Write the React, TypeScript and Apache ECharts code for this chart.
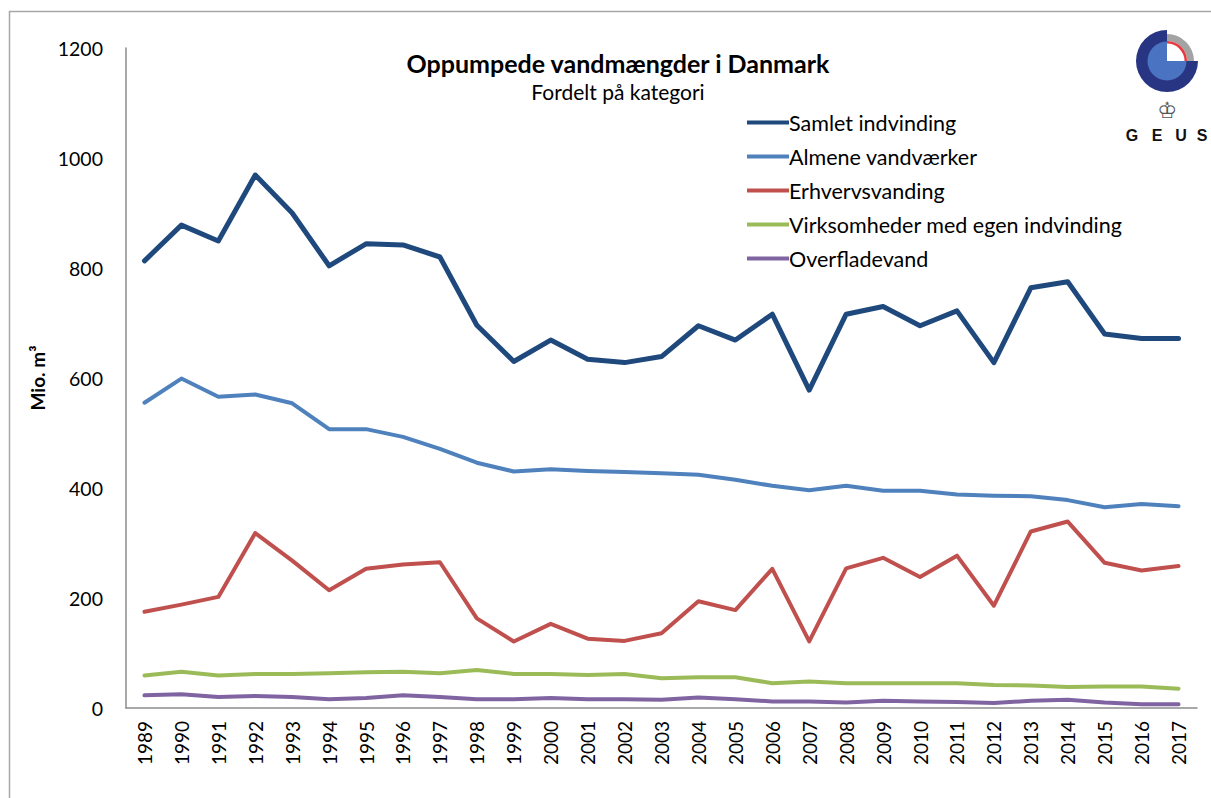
import React, { useEffect, useRef } from "react";
import * as echarts from "echarts";

const years = ["1989","1990","1991","1992","1993","1994","1995","1996","1997","1998","1999","2000","2001","2002","2003","2004","2005","2006","2007","2008","2009","2010","2011","2012","2013","2014","2015","2016","2017"];
const samlet = [813, 878, 849, 969, 900, 804, 844, 842, 820, 696, 630, 669, 634, 628, 639, 695, 669, 716, 578, 716, 730, 695, 722, 628, 764, 775, 680, 672, 672];
const almene = [555, 599, 566, 570, 554, 507, 507, 493, 471, 446, 430, 434, 431, 429, 427, 424, 415, 404, 396, 404, 395, 395, 388, 386, 385, 378, 365, 371, 367];
const erhverv = [175, 188, 202, 318, 268, 214, 253, 261, 265, 163, 121, 153, 126, 122, 136, 194, 178, 253, 121, 254, 273, 238, 277, 186, 321, 339, 264, 250, 258];
const virksomheder = [59, 66, 59, 62, 62, 63, 65, 66, 63, 69, 62, 62, 60, 62, 54, 56, 56, 45, 48, 45, 45, 45, 45, 42, 41, 38, 39, 39, 35];
const overflade = [23, 25, 20, 22, 20, 16, 18, 23, 20, 16, 16, 18, 16, 16, 15, 19, 16, 12, 12, 10, 13, 12, 11, 9, 13, 15, 10, 7, 7];

const seriesNames = ["Samlet indvinding", "Almene vandværker", "Erhvervsvanding", "Virksomheder med egen indvinding", "Overfladevand"];
const seriesColors = ["#1F497D", "#4F81BD", "#C0504D", "#9BBB59", "#8064A2"];
const seriesData = [samlet, almene, erhverv, virksomheder, overflade];
const seriesWidths = [5, 4, 4, 4, 4];

const titleText = "Oppumpede vandmængder i Danmark";
const subtitleText = "Fordelt på kategori";
const yAxisName = "Mio. m³";

const FONT = "Lato, 'Open Sans', sans-serif";

export default function App() {
  const ref = useRef<HTMLDivElement>(null);
  useEffect(() => {
    if (!ref.current) return;
    const chart = echarts.init(ref.current, undefined, { renderer: "svg" });
    const cx = 1167, cy = 61;
    chart.setOption({
      animation: false,
      backgroundColor: "#ffffff",
      textStyle: { fontFamily: FONT },
      title: {
        text: titleText,
        subtext: subtitleText,
        left: 613,
        top: 45,
        textAlign: "center",
        itemGap: 6,
        textStyle: { fontFamily: FONT, fontWeight: "bold", fontSize: 25, color: "#000" },
        subtextStyle: { fontFamily: FONT, fontSize: 21, color: "#000" },
      },
      legend: {
        orient: "vertical",
        left: 742,
        top: 106,
        itemWidth: 42,
        itemHeight: 4,
        itemGap: 11,
        icon: "rect",
        data: seriesNames,
        textStyle: { fontFamily: FONT, fontSize: 21.5, color: "#000", lineHeight: 23, padding: [0, 0, 0, -5] },
      },
      grid: { left: 126, top: 48, right: 14, bottom: 90 },
      xAxis: {
        type: "category",
        data: years,
        boundaryGap: true,
        axisLine: { lineStyle: { color: "#8c8c8c", width: 1.5 } },
        axisTick: { show: false },
        axisLabel: { rotate: 90, fontFamily: FONT, fontSize: 19, color: "#000", margin: 13, interval: 0 },
      },
      yAxis: {
        type: "value",
        min: 0,
        max: 1200,
        interval: 200,
        name: yAxisName,
        nameLocation: "middle",
        nameGap: 78,
        nameTextStyle: { fontFamily: FONT, fontWeight: "bold", fontSize: 19, color: "#000" },
        axisLine: { show: true, lineStyle: { color: "#8c8c8c", width: 1.5 } },
        axisTick: { show: false },
        splitLine: { show: false },
        axisLabel: { fontFamily: FONT, fontSize: 19.5, color: "#000", margin: 23, formatter: (v: number) => String(v) },
      },
      series: seriesNames.map((name, i) => ({
        name,
        type: "line",
        data: seriesData[i],
        symbol: "none",
        showSymbol: false,
        color: seriesColors[i],
        lineStyle: { color: seriesColors[i], width: seriesWidths[i], cap: "round", join: "round" },
        z: 10 - i,
      })),
      graphic: [
        {
          type: "rect",
          silent: true,
          shape: { x: 9.5, y: 11.5, width: 1400, height: 1000 },
          style: { fill: "none", stroke: "#a6a6a6", lineWidth: 1.5 },
        },
        {
          type: "group",
          silent: true,
          children: [
            { type: "sector", shape: { cx, cy, r: 31, r0: 0, startAngle: 0, endAngle: Math.PI * 1.5, clockwise: true }, style: { fill: "#283583" } },
            { type: "sector", shape: { cx, cy, r: 19.5, r0: 0, startAngle: 0, endAngle: Math.PI * 1.5, clockwise: true }, style: { fill: "#4A73C2" } },
            { type: "sector", shape: { cx, cy, r: 27, r0: 20, startAngle: Math.PI * 1.5, endAngle: Math.PI * 2, clockwise: true }, style: { fill: "#A3A3A3" } },
            { type: "sector", shape: { cx, cy, r: 20, r0: 17.5, startAngle: Math.PI * 1.5, endAngle: Math.PI * 2, clockwise: true }, style: { fill: "#E8383D" } },
            { type: "text", x: cx, y: 110, style: { text: "♔", fontSize: 22, fontFamily: "DejaVu Sans", fill: "#555", align: "center", verticalAlign: "middle" } },
            { type: "text", x: 1132, y: 135, style: { text: "G", fontSize: 16, fontWeight: "bold", fontFamily: "Liberation Sans", fill: "#111", align: "center", verticalAlign: "middle" } },
            { type: "text", x: 1157, y: 135, style: { text: "E", fontSize: 16, fontWeight: "bold", fontFamily: "Liberation Sans", fill: "#111", align: "center", verticalAlign: "middle" } },
            { type: "text", x: 1181, y: 135, style: { text: "U", fontSize: 16, fontWeight: "bold", fontFamily: "Liberation Sans", fill: "#111", align: "center", verticalAlign: "middle" } },
            { type: "text", x: 1202, y: 135, style: { text: "S", fontSize: 16, fontWeight: "bold", fontFamily: "Liberation Sans", fill: "#111", align: "center", verticalAlign: "middle" } },
          ],
        },
      ],
    });
    return () => chart.dispose();
  }, []);
  return <div ref={ref} style={{ position: "absolute", left: 0, top: 0, width: 1211, height: 798 }} />;
}
